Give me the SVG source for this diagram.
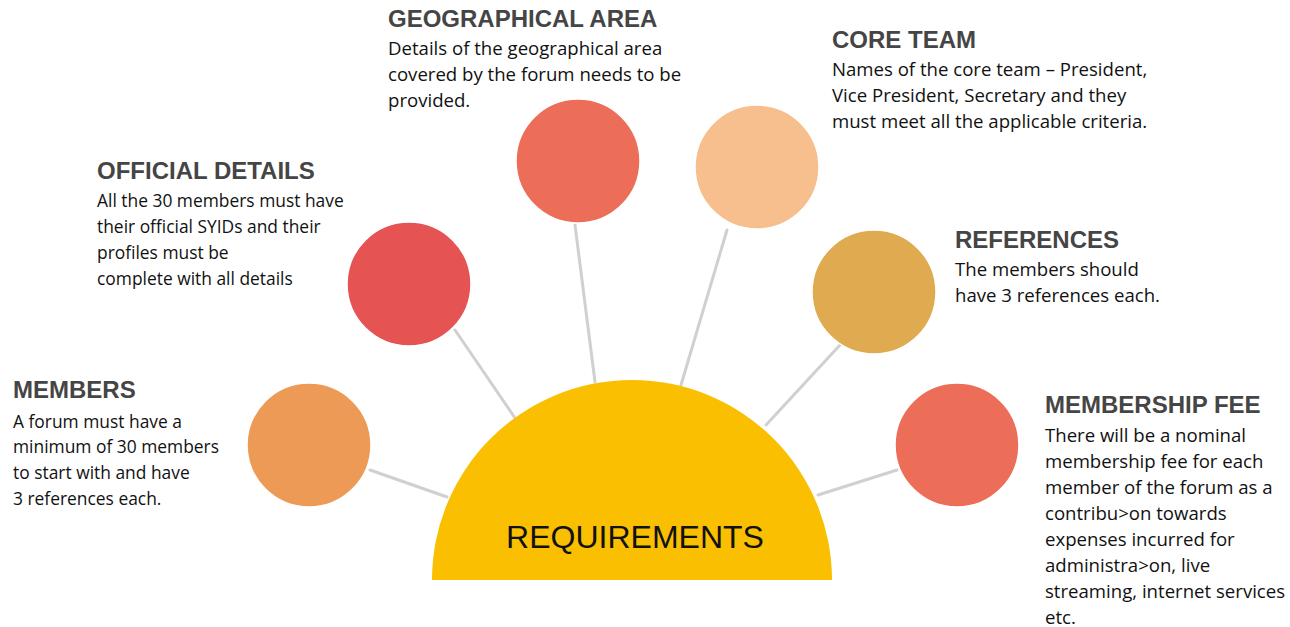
<svg xmlns="http://www.w3.org/2000/svg" width="1290" height="627" viewBox="0 0 1290 627">
<style>
.h{font-family:"Liberation Sans",Arial,sans-serif;font-weight:bold;font-size:24px;fill:#454545}
.b{font-family:"Open Sans","Noto Sans",sans-serif;font-size:18.6px;fill:#111}
.s{font-size:17.4px}
.c{stroke:#fff;stroke-width:1.5}
.ln{stroke:#d0d0d0;stroke-width:3;fill:none;stroke-linecap:round}
</style>
<rect width="1290" height="627" fill="#fff"/>
<g id="connectors">
<line class="ln" x1="370" y1="470" x2="447" y2="497"/>
<line class="ln" x1="455" y1="330" x2="515" y2="418"/>
<line class="ln" x1="575" y1="225" x2="595" y2="382"/>
<line class="ln" x1="727" y1="230" x2="681" y2="385"/>
<line class="ln" x1="840" y1="345" x2="766" y2="425"/>
<line class="ln" x1="897" y1="470" x2="818" y2="495"/>
</g>
<g id="requirements">
<path d="M432 580 A200 200 0 0 1 832 580 Z" fill="#F9BF00"/>
<text x="635" y="548" text-anchor="middle" font-family="Liberation Sans,Arial,sans-serif" font-size="32" fill="#111">REQUIREMENTS</text>
</g>
<g id="members">
<circle class="c" cx="309" cy="445" r="62" fill="#ED9A56"/>
<text class="h" x="13" y="398">MEMBERS</text>
<text class="b s" x="13" y="428">A forum must have a</text>
<text class="b s" x="13" y="453">minimum of 30 members</text>
<text class="b s" x="13" y="479">to start with and have</text>
<text class="b s" x="13" y="505">3 references each.</text>
</g>
<g id="official-details">
<circle class="c" cx="409" cy="284" r="62" fill="#E55353"/>
<text class="h" x="97" y="179">OFFICIAL DETAILS</text>
<text class="b s" x="97" y="207">All the 30 members must have</text>
<text class="b s" x="97" y="233">their official SYIDs and their</text>
<text class="b s" x="97" y="259">profiles must be</text>
<text class="b s" x="97" y="285">complete with all details</text>
</g>
<g id="geographical-area">
<circle class="c" cx="578" cy="161" r="62" fill="#EC6E58"/>
<text class="h" x="388" y="27">GEOGRAPHICAL AREA</text>
<text class="b" x="388" y="55">Details of the geographical area</text>
<text class="b" x="388" y="81">covered by the forum needs to be</text>
<text class="b" x="388" y="107">provided.</text>
</g>
<g id="core-team">
<circle class="c" cx="757" cy="167" r="62" fill="#F7BE8E"/>
<text class="h" x="832" y="48">CORE TEAM</text>
<text class="b" x="832" y="76">Names of the core team – President,</text>
<text class="b" x="832" y="102">Vice President, Secretary and they</text>
<text class="b" x="832" y="128">must meet all the applicable criteria.</text>
</g>
<g id="references">
<circle class="c" cx="874" cy="292" r="62" fill="#E0AA50"/>
<text class="h" x="955" y="248">REFERENCES</text>
<text class="b" x="955" y="276">The members should</text>
<text class="b" x="955" y="302">have 3 references each.</text>
</g>
<g id="membership-fee">
<circle class="c" cx="957" cy="445" r="62" fill="#EC6E58"/>
<text class="h" x="1045" y="413">MEMBERSHIP FEE</text>
<text class="b" x="1045" y="442">There will be a nominal</text>
<text class="b" x="1045" y="468">membership fee for each</text>
<text class="b" x="1045" y="494">member of the forum as a</text>
<text class="b" x="1045" y="520">contribu&gt;on towards</text>
<text class="b" x="1045" y="546">expenses incurred for</text>
<text class="b" x="1045" y="572">administra&gt;on, live</text>
<text class="b" x="1045" y="598">streaming, internet services</text>
<text class="b" x="1045" y="624">etc.</text>
</g>
</svg>
